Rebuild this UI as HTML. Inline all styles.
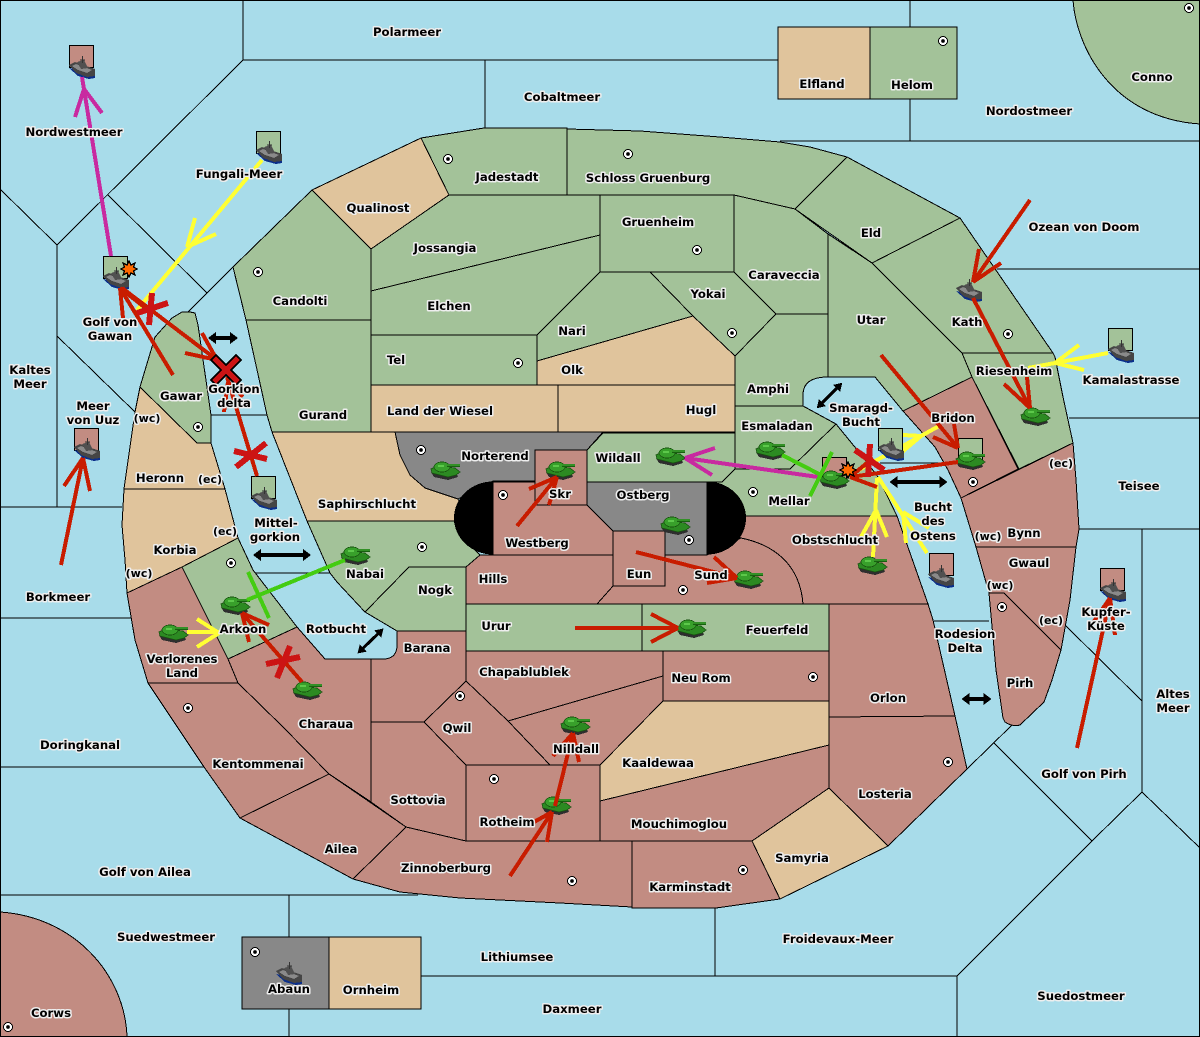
<!DOCTYPE html>
<html><head><meta charset="utf-8"><style>
html,body{margin:0;padding:0;background:#a8dcea}
svg{display:block;shape-rendering:crispEdges}
.l text{font:bold 11.7px "DejaVu Sans",sans-serif;text-anchor:middle;fill:#000;stroke:#eeeeee;stroke-width:3;paint-order:stroke;stroke-linejoin:round}
.c{fill:none;stroke-width:4;stroke-linecap:butt}
</style></head><body>
<svg width="1200" height="1037" viewBox="0 0 1200 1037" xmlns="http://www.w3.org/2000/svg">
<defs>
<symbol id="tank" width="30" height="18" viewBox="0 0 30 18" overflow="visible">
<path d="M0,10 L16,14 L26,12 L27,15 L17,18 L3,15Z" fill="#2e2e2e"/>
<path d="M0,7 L6,4 L24,6 L29,10 L25,13 L17,15 L1,11Z" fill="#2c8a22" stroke="#17520f" stroke-width=".8"/>
<ellipse cx="11" cy="5" rx="8" ry="5" fill="#38a02b" stroke="#17520f" stroke-width=".8"/>
<path d="M16,2 H29 V5 H16Z" fill="#17600f"/>
<path d="M16,3 H29" stroke="#4fbf3f" stroke-width="1"/>
<path d="M7,3 H13 V5 H7Z" fill="#5cc84a"/>
</symbol>
<symbol id="ship" width="26" height="23" viewBox="0 0 26 23" overflow="visible">
<path d="M0,12 L9,20 L20,23 L26,22 L26,16Z" fill="#0b2f8a"/>
<path d="M0,9 L6,6 L26,13 L26,20 L18,21 L7,17Z" fill="#454545"/>
<path d="M3,10 L7,8 L23,14 L18,17 L9,14Z" fill="#8a8a8a"/>
<path d="M8,6 L15,4 L19,12 L12,13Z" fill="#505050"/>
<path d="M13.500,0 V7 M11,4 H16" stroke="#333" stroke-width="1"/>
</symbol>
<symbol id="boom" width="16" height="16" viewBox="-8 -8 16 16" overflow="visible">
<path d="M0,-8 L2,-4 L6,-6 L4.500,-2 L8,0 L4.500,2 L6,6 L2,4 L0,8 L-2,4 L-6,6 L-4.500,2 L-8,0 L-4.500,-2 L-6,-6 L-2,-4Z" fill="#ff6a00" stroke="#000" stroke-width="1.200"/>
</symbol>
</defs>
<rect width="1200" height="1037" fill="#a8dcea"/>

<!-- sea borders -->
<path fill="none" stroke="#000" stroke-width="1" d="M243,0V60H778 M485,60V128 M910,0V27 M910,99V141 M780,141H1200
M0,507H122 M0,618H131 M0,767H204 M0,895H418 M289,895V937 M289,1009V1037 M421,976H957 M715,908V976 M957,976V1037
M1079,529H1200 M1069,418H1200 M997,269H1200 M1142,529V792 M57,245V507
M211,415H267 M256,573H330 M934,621H989 M880,463H945"/>
<path fill="none" stroke="#000" stroke-width="1" d="M243,60L57,245L0,189 M108,195L207,293 M188,312L233,267 M57,336L135,412
M957,976L1092,841L994,743 M967,769L1012,725 M1092,841L1142,792L1200,848 M1065,625L1142,701"/>

<!-- land -->
<g stroke="#000" stroke-width="1" stroke-linejoin="round">
<path fill="#a3c299" d="M1073,0 C1076,45 1110,118 1200,124 V0Z
M870,27H957V99H870Z
M312,190L371,249V320H246L233,267Z
M246,320H371V432H272L267,415Z
M421,138L484,128H567V195H449Z
M567,129L640,131L720,137L780,142L810,147L847,157L795,209L734,195H567Z
M847,157L960,218L872,263L795,209Z
M960,218L1053,353H962L917,308L872,263Z
M962,353H1053L1055,357L1063,397L1073,443L1019,469L972,377Z
M828,234L872,263L917,308L962,353L972,377L903,411L875,377H828Z
M734,195L795,209L828,234V314H776L734,272Z
M776,314H828V377 Q803,377 803,395 V406H735V356Z
M650,272H734L776,314L735,356L693,316Z
M600,195H734V272H600Z
M371,249L449,195H600V235L371,291Z
M371,291L600,235V272L537,335H371Z
M600,272H650L693,316L537,361V335Z
M371,335H537V385H371Z
M603,433H735V469L722,482H587V450Z
M735,406H803L836,424L790,469H735Z
M722,482L735,469H790L836,424L863,457L878,477L897,516H745L707,482Z
M466,604H642V651H466Z
M642,604H829V651H642Z
M307,521H454L460,535L480,555L466,567H409L365,612L337,582L330,573Z
M409,567H466V631H397L365,612Z
M182,567L238,538L253,570L297,627L228,659Z
M140,387L155,337L172,318L182,312H190L195,313L198,325L211,415V443H197Z"/>
<path fill="#e0c49c" d="M778,27H870V99H778Z M329,937H421V1009H329Z
M312,190L421,138L449,195L371,249Z
M537,361L693,316L735,356V385H537Z
M371,385H558V432H371Z M558,385H735V432H558Z
M272,432H395L400,455L410,475L425,488L458,499L470,521H307Z
M663,701H829V745L600,801V765Z
M829,788L888,846L780,899L752,841Z
M140,387L197,443H211L225,489H124L135,412Z
M124,489H225L238,538L182,567L127,593L125,560L122,525Z"/>
<path fill="#888" d="M395,432H603L587,450H535V481H493L458,499L425,488L410,475L400,455Z
M587,482H707V555H665V531H613L587,505Z M242,937H329V1009H242Z"/>
<path fill="#c28c82" d="M0,912 C75,917 125,975 127,1037 H0Z
M535,450H587V505H535Z
M493,482H535V505H587L613,531V555H493Z
M613,531H665V586H613Z
M480,555H613V586L597,604H466V567Z
M665,555H707L741,538 C775,545 800,565 803,604H597L613,586H665Z
M730,516H897L928,604H803 C800,565 775,545 741,538L725,530Z
M903,411L972,377L1018,469L961,498L948,470L935,447Z
M961,498L1073,443L1076,480L1079,529L1076,547H976Z
M976,547H1076L1070,600L1061,650L1004,593H989Z
M989,593H1004L1061,650L1052,680L1044,702L1020,725 Q1012,727 1005,722 L1003,718L996,670Z
M829,604H928L933,620L955,716L829,717Z
M829,717L955,716L967,769L888,846L829,788Z
M663,651H829V701H663Z
M466,651H663V676L508,721L466,681Z
M508,721L663,676V701L600,765H550Z
M600,801L829,745V788L752,841H600Z
M466,765H600V841H466Z
M632,841H752L780,899L716,908H632Z
M406,827L466,841H632V907L560,903L460,898L400,892L353,879Z
M240,818L329,774L406,827L353,879Z
M148,683H238L283,727L329,774L240,818L204,767Z
M228,659L297,627L325,659H371V802L329,774L283,727L238,683Z
M371,659H383 Q397,659 397,645 V631H466V681L424,722H371Z
M466,681L508,721L550,765H466L424,722Z
M371,722H424L466,765V841L406,827L371,802Z
M127,593L182,567L228,659L238,683H148L135,640Z"/>
<path fill="#000" stroke="none" d="M493,481.500A39,36.500 0 0 0 493,554.500Z M707,481.500A39,36.500 0 0 1 707,554.500Z"/>
</g>

<!-- supply boxes -->
<g stroke="#000" stroke-width="1">
<rect x="69.500" y="45.500" width="24" height="22" fill="#c28c82"/>
<rect x="256.500" y="131.500" width="24" height="22" fill="#a3c299"/>
<rect x="103.500" y="256.500" width="24" height="22" fill="#a3c299"/>
<rect x="74.500" y="428.500" width="24" height="22" fill="#c28c82"/>
<rect x="251.500" y="476.500" width="24" height="22" fill="#a3c299"/>
<rect x="958.500" y="438.500" width="24" height="22" fill="#a3c299"/>
<rect x="822.500" y="457.500" width="24" height="22" fill="#c28c82"/>
<rect x="929.500" y="553.500" width="24" height="22" fill="#c28c82"/>
<rect x="1100.500" y="568.500" width="24" height="22" fill="#c28c82"/>
<rect x="1108.500" y="328.500" width="24" height="22" fill="#a3c299"/>
</g>

<!-- units -->
<g>
<use href="#ship" x="69" y="56"/><use href="#ship" x="256" y="141"/><use href="#ship" x="103" y="267"/>
<use href="#ship" x="74" y="438"/><use href="#ship" x="251" y="487"/>
<use href="#ship" x="928" y="565"/><use href="#ship" x="1100" y="579"/><use href="#ship" x="1108" y="340"/>
<use href="#ship" x="956" y="279"/><use href="#ship" x="276" y="962"/>
<use href="#tank" x="431" y="462"/><use href="#tank" x="546" y="462"/><use href="#tank" x="656" y="448"/>
<use href="#tank" x="756" y="442"/><use href="#tank" x="820" y="471"/><use href="#tank" x="661" y="517"/>
<use href="#tank" x="734" y="571"/><use href="#tank" x="677" y="620"/><use href="#tank" x="858" y="557"/>
<use href="#tank" x="1021" y="408"/><use href="#tank" x="956" y="452"/><use href="#tank" x="341" y="547"/>
<use href="#tank" x="221" y="597"/><use href="#tank" x="159" y="625"/><use href="#tank" x="293" y="682"/>
<use href="#tank" x="561" y="717"/><use href="#tank" x="542" y="797"/>
</g>

<!-- connectors -->
<path class="c" stroke="#c82aa0" d="M111,256L82,77 M84,89L75,117 M84,89L102,113
M818,477L685,458 M685,458L715,448 M685,458L712,475"/>
<path class="c" stroke="#ffff33" d="M262,160L137,310 M187,247L195,218 M187,247L216,234
M187,632H219 M219,633L197,619 M219,633L197,647
M855,472L921,436L939,426 M921,436L903,435 M921,436L895,458
M873,557L877,478 M876,510L861,537 M876,510L887,537
M927,553L878,477 M903,512L906,543 M903,512L929,528
M1108,353L1055,363L1028,368 M1055,363L1079,345 M1055,363L1084,370"/>
<path class="c" stroke="#44cc11" d="M345,560L247,600 M248,572L269,618 M782,455L821,475 M832,452L810,496"/>
<path class="c" stroke="#c81c00" d="M173,375L120,288 M120,288L123,318 M120,288L148,310
M122,288L217,360 M217,360L202,333 M217,360L185,353
M227,377L257,476 M228,382L224,412 M228,382L243,397
M61,565L83,458 M83,458L64,486 M83,458L90,491
M302,682L242,613 M242,613L269,625 M242,613L249,642
M510,876L552,812 M552,812L534,822 M552,812L547,842
M555,806L573,733 M573,733L553,756 M573,733L579,762
M517,526L557,477 M557,477L529,489 M557,477L549,505
M636,552L737,578 M737,578L714,557 M737,578L707,583
M575,628H678 M678,628L651,614 M678,628L651,642
M958,462L850,477 M850,477L877,487 M850,477L873,458
M881,355L958,448 M958,448L933,437 M958,448L954,424
M1030,200L973,282 M973,282L979,249 M973,282L1001,263
M973,298L1030,408 M1030,408L1004,384 M1030,408L1027,377
M1077,748L1110,598 M1110,598L1088,630 M1110,598L1115,635"/>

<!-- Smaragd box and ship sit over the yellow connectors -->
<rect x="878.500" y="428.500" width="24" height="22" fill="#a3c299" stroke="#000" stroke-width="1"/>
<use href="#ship" x="878" y="438"/>

<path fill="none" stroke="#cc1414" stroke-width="6" d="M152,293L149,325 M137,313L168,303
M234,451L267,459 M266,443L236,467 M290,646L277,678 M266,664L300,657
M870,444L868,477 M855,450L884,470"/>
<path fill="none" stroke="#000" stroke-width="9" stroke-linecap="square" d="M216,360L236,380 M236,360L216,380"/>
<path fill="none" stroke="#cc1414" stroke-width="5.500" stroke-linecap="square" d="M216,360L236,380 M236,360L216,380"/>
<use href="#boom" x="121" y="261"/><use href="#boom" x="840" y="462"/>

<!-- convoy/coast arrows -->
<g fill="#000">
<path transform="translate(223,338)" d="M-15,0L-7,-6V-2H7V-6L15,0L7,6V2H-7V6Z"/>
<path transform="translate(282,555)" d="M-29,0L-21,-6V-2H21V-6L29,0L21,6V2H-21V6Z"/>
<path transform="translate(370.500,641) rotate(-44)" d="M-18,0L-10,-5V-1.500H10V-5L18,0L10,5V1.500H-10V5Z"/>
<path transform="translate(829.500,395.500) rotate(-45)" d="M-18,0L-10,-5V-1.500H10V-5L18,0L10,5V1.500H-10V5Z"/>
<path transform="translate(918.500,482)" d="M-29,0L-21,-6V-2H21V-6L29,0L21,6V2H-21V6Z"/>
<path transform="translate(976.500,699)" d="M-15,0L-7,-6V-2H7V-6L15,0L7,6V2H-7V6Z"/>
</g>

<!-- supply centres -->
<g fill="#fff" stroke="#000" stroke-width="1">
<circle cx="258" cy="272" r="4.500"/><circle cx="198" cy="427" r="4.500"/><circle cx="448" cy="159" r="4.500"/>
<circle cx="628" cy="154" r="4.500"/><circle cx="697" cy="250" r="4.500"/><circle cx="732" cy="333" r="4.500"/>
<circle cx="518" cy="363" r="4.500"/><circle cx="943" cy="41" r="4.500"/><circle cx="1008" cy="334" r="4.500"/>
<circle cx="1189" cy="8" r="4.500"/><circle cx="973" cy="482" r="4.500"/><circle cx="753" cy="492" r="4.500"/>
<circle cx="421" cy="450" r="4.500"/><circle cx="503" cy="495" r="4.500"/><circle cx="689" cy="540" r="4.500"/>
<circle cx="683" cy="590" r="4.500"/><circle cx="422" cy="547" r="4.500"/><circle cx="231" cy="563" r="4.500"/>
<circle cx="188" cy="708" r="4.500"/><circle cx="460" cy="696" r="4.500"/><circle cx="494" cy="779" r="4.500"/>
<circle cx="572" cy="881" r="4.500"/><circle cx="743" cy="870" r="4.500"/><circle cx="813" cy="677" r="4.500"/>
<circle cx="948" cy="762" r="4.500"/><circle cx="1002" cy="607" r="4.500"/><circle cx="255" cy="952" r="4.500"/>
<circle cx="8" cy="1027" r="4.500"/>
</g>
<g fill="#000">
<circle cx="258" cy="272" r="1.800"/><circle cx="198" cy="427" r="1.800"/><circle cx="448" cy="159" r="1.800"/>
<circle cx="628" cy="154" r="1.800"/><circle cx="697" cy="250" r="1.800"/><circle cx="732" cy="333" r="1.800"/>
<circle cx="518" cy="363" r="1.800"/><circle cx="943" cy="41" r="1.800"/><circle cx="1008" cy="334" r="1.800"/>
<circle cx="1189" cy="8" r="1.800"/><circle cx="973" cy="482" r="1.800"/><circle cx="753" cy="492" r="1.800"/>
<circle cx="421" cy="450" r="1.800"/><circle cx="503" cy="495" r="1.800"/><circle cx="689" cy="540" r="1.800"/>
<circle cx="683" cy="590" r="1.800"/><circle cx="422" cy="547" r="1.800"/><circle cx="231" cy="563" r="1.800"/>
<circle cx="188" cy="708" r="1.800"/><circle cx="460" cy="696" r="1.800"/><circle cx="494" cy="779" r="1.800"/>
<circle cx="572" cy="881" r="1.800"/><circle cx="743" cy="870" r="1.800"/><circle cx="813" cy="677" r="1.800"/>
<circle cx="948" cy="762" r="1.800"/><circle cx="1002" cy="607" r="1.800"/><circle cx="255" cy="952" r="1.800"/>
<circle cx="8" cy="1027" r="1.800"/>
</g>

<!-- labels -->
<g class="l" transform="translate(0,-1)">
<text x="407" y="37">Polarmeer</text><text x="562" y="102">Cobaltmeer</text><text x="822" y="89">Elfland</text>
<text x="912" y="90">Helom</text><text x="1152" y="82">Conno</text><text x="1029" y="116">Nordostmeer</text>
<text x="74" y="137">Nordwestmeer</text><text x="239" y="179">Fungali-Meer</text><text x="378" y="213">Qualinost</text>
<text x="507" y="182">Jadestadt</text><text x="648" y="183">Schloss Gruenburg</text><text x="658" y="227">Gruenheim</text>
<text x="784" y="280">Caraveccia</text><text x="871" y="238">Eld</text><text x="1084" y="232">Ozean von Doom</text>
<text x="445" y="253">Jossangia</text><text x="449" y="311">Elchen</text><text x="300" y="306">Candolti</text>
<text x="708" y="299">Yokai</text><text x="572" y="336">Nari</text><text x="871" y="325">Utar</text>
<text x="967" y="327">Kath</text><text x="1014" y="376">Riesenheim</text><text x="1131" y="385">Kamalastrasse</text>
<text x="396" y="365">Tel</text><text x="572" y="375">Olk</text><text x="768" y="394">Amphi</text>
<text x="861" y="413">Smaragd-</text><text x="861" y="427">Bucht</text><text x="440" y="416">Land der Wiesel</text>
<text x="701" y="415">Hugl</text><text x="323" y="420">Gurand</text><text x="953" y="423">Bridon</text>
<text x="777" y="431">Esmaladan</text><text x="110" y="327">Golf von</text><text x="110" y="341">Gawan</text>
<text x="30" y="375">Kaltes</text><text x="30" y="389">Meer</text><text x="93" y="411">Meer</text><text x="93" y="425">von Uuz</text>
<text x="181" y="401">Gawar</text><text x="234" y="394">Gorkion</text><text x="234" y="408">delta</text>
<text x="147" y="423" style="font-size:11px">(wc)</text><text x="160" y="483">Heronn</text><text x="210" y="484" style="font-size:11px">(ec)</text>
<text x="495" y="461">Norterend</text><text x="618" y="463">Wildall</text><text x="560" y="499">Skr</text>
<text x="643" y="500">Ostberg</text><text x="789" y="506">Mellar</text><text x="367" y="509">Saphirschlucht</text>
<text x="276" y="528">Mittel-</text><text x="275" y="542">gorkion</text><text x="1139" y="491">Teisee</text>
<text x="1061" y="468" style="font-size:11px">(ec)</text><text x="933" y="512">Bucht</text><text x="933" y="526">des</text><text x="933" y="541">Ostens</text>
<text x="537" y="548">Westberg</text><text x="835" y="545">Obstschlucht</text><text x="1024" y="538">Bynn</text>
<text x="988" y="541" style="font-size:11px">(wc)</text><text x="1029" y="568">Gwaul</text><text x="175" y="555">Korbia</text>
<text x="225" y="536" style="font-size:11px">(ec)</text><text x="139" y="578" style="font-size:11px">(wc)</text><text x="365" y="579">Nabai</text>
<text x="493" y="584">Hills</text><text x="639" y="579">Eun</text><text x="711" y="580">Sund</text><text x="435" y="595">Nogk</text>
<text x="1000" y="590" style="font-size:11px">(wc)</text><text x="58" y="602">Borkmeer</text><text x="1106" y="617">Kupfer-</text><text x="1106" y="631">Küste</text>
<text x="1051" y="625" style="font-size:11px">(ec)</text><text x="496" y="631">Urur</text><text x="777" y="635">Feuerfeld</text>
<text x="243" y="634">Arkoon</text><text x="336" y="634">Rotbucht</text><text x="965" y="639">Rodesion</text><text x="965" y="653">Delta</text>
<text x="427" y="653">Barana</text><text x="182" y="664">Verlorenes</text><text x="182" y="678">Land</text>
<text x="524" y="677">Chapablublek</text><text x="701" y="683">Neu Rom</text><text x="1020" y="688">Pirh</text>
<text x="1173" y="699">Altes</text><text x="1173" y="713">Meer</text><text x="888" y="703">Orlon</text><text x="326" y="729">Charaua</text>
<text x="457" y="733">Qwil</text><text x="80" y="750">Doringkanal</text><text x="576" y="754">Nilldall</text>
<text x="658" y="768">Kaaldewaa</text><text x="258" y="769">Kentommenai</text><text x="1084" y="779">Golf von Pirh</text>
<text x="885" y="799">Losteria</text><text x="418" y="805">Sottovia</text><text x="507" y="827">Rotheim</text>
<text x="679" y="829">Mouchimoglou</text><text x="341" y="854">Ailea</text><text x="802" y="863">Samyria</text>
<text x="446" y="873">Zinnoberburg</text><text x="145" y="877">Golf von Ailea</text><text x="690" y="892">Karminstadt</text>
<text x="166" y="942">Suedwestmeer</text><text x="838" y="944">Froidevaux-Meer</text><text x="517" y="962">Lithiumsee</text>
<text x="289" y="994">Abaun</text><text x="371" y="995">Ornheim</text><text x="1081" y="1001">Suedostmeer</text>
<text x="572" y="1014">Daxmeer</text><text x="51" y="1018">Corws</text>
</g>
<rect x="0.500" y="0.500" width="1199" height="1036" fill="none" stroke="#000" stroke-width="1"/>
</svg>
</body></html>
